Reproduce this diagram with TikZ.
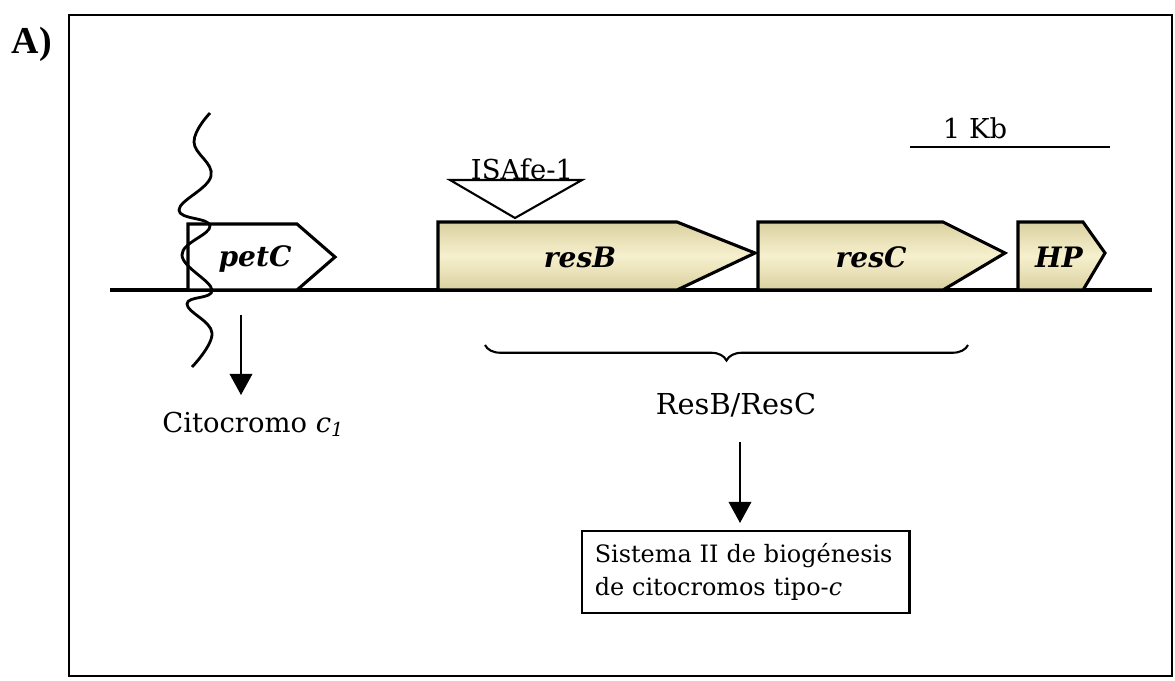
\documentclass[tikz,border=0pt]{standalone}
\usepackage{fontspec}
\setmainfont{DejaVu Serif}
\newfontfamily\labelfont{Liberation Serif}
\usetikzlibrary{arrows.meta,decorations.pathreplacing}
\definecolor{genefill}{RGB}{246,240,206}
\definecolor{genedark}{RGB}{218,208,160}
\tikzset{
  gene/.style={draw=black, line width=2.2pt, line join=miter, top color=genedark, bottom color=genedark, middle color=genefill},
  genebox/.style={draw=black, line width=2.2pt, line join=miter, fill=white},
  genelabel/.style={font=\fontsize{20}{24}\selectfont\bfseries\itshape, inner sep=0pt},
  plaintext/.style={font=\fontsize{19.5}{24}\selectfont, inner sep=0pt},
  bigarrow/.style={line width=1.5pt, -{Triangle[width=16pt,length=15pt]}},
}
\begin{document}
\begin{tikzpicture}[x=0.025cm,y=-0.025cm]
\useasboundingbox (0,0) rectangle (1175,680);
% frame
\draw[line width=1.6pt] (69,15) rectangle (1172,676);
\node[font=\labelfont\fontsize{27}{30}\selectfont\bfseries, inner sep=0pt] (lblA) at (32,44) {A)};
% baseline
\coordinate (bl0) at (110,290);
\coordinate (bl1) at (1152,290);
\draw[line width=2.4pt] (bl0) -- (bl1);
% petC (white)
\draw[genebox] (188,290) -- (188,224) -- (297,224) -- (335,257) -- (297,290) -- cycle;
\node[genelabel] (petC) at (255,259) {petC};
% wavy membrane line
\draw[line width=2pt] plot[smooth, tension=0.7] coordinates {(210,113) (194,142) (211,176) (179,210) (210,226) (182,255) (212,290) (187,304) (212,333) (192,367)};
% resB
\draw[gene] (438,290) -- (438,222) -- (677,222) -- (755,253) -- (677,290) -- cycle;
\node[genelabel] (resB) at (580,257) {resB};
% resC
\draw[gene] (758,290) -- (758,222) -- (943,222) -- (1005,253) -- (943,290) -- cycle;
\node[genelabel] (resC) at (871,257) {resC};
% HP
\draw[gene] (1018,290) -- (1018,222) -- (1083,222) -- (1105,253) -- (1083,290) -- cycle;
\node[genelabel] (HP) at (1059,257) {HP};
% ISAfe-1 insertion
\draw[line width=1.5pt, fill=white] (450,180) -- (582,180) -- (515,218) -- cycle;
\node[plaintext, anchor=base] (isa) at (522,179) {ISAfe-1};
% scale bar
\node[plaintext] (kb) at (975,128) {1 Kb};
\coordinate (sb0) at (910,147);
\coordinate (sb1) at (1110,147);
\draw[line width=2pt] (sb0) -- (sb1);
% petC product
\coordinate (pa) at (241,315);
\node[plaintext, anchor=base west] (cito) at (162,432) {Citocromo \textit{c\textsubscript{1}}};
\draw[bigarrow] (pa) -- (241,395);
% brace
\coordinate (br0) at (968,345);
\coordinate (br1) at (485,345);
\draw[line width=1.5pt, decorate, decoration={brace, amplitude=11pt}] (br0) -- (br1);
\node[plaintext, font=\fontsize{20.5}{24}\selectfont] (resbc) at (736,405) {ResB/ResC};
% system box
\node[draw, line width=1.6pt, align=left, text width=7.55cm, inner xsep=9pt, inner ysep=9pt, minimum height=1.95cm, font=\fontsize{17}{23}\selectfont, anchor=north west] (sys) at (581,530) {Sistema II de biogénesis\\de citocromos tipo-\textit{c}};
\coordinate (ra) at (740,442);
\draw[bigarrow, shorten >=5pt] (ra) -- (sys.north -| ra);
\end{tikzpicture}
\end{document}
